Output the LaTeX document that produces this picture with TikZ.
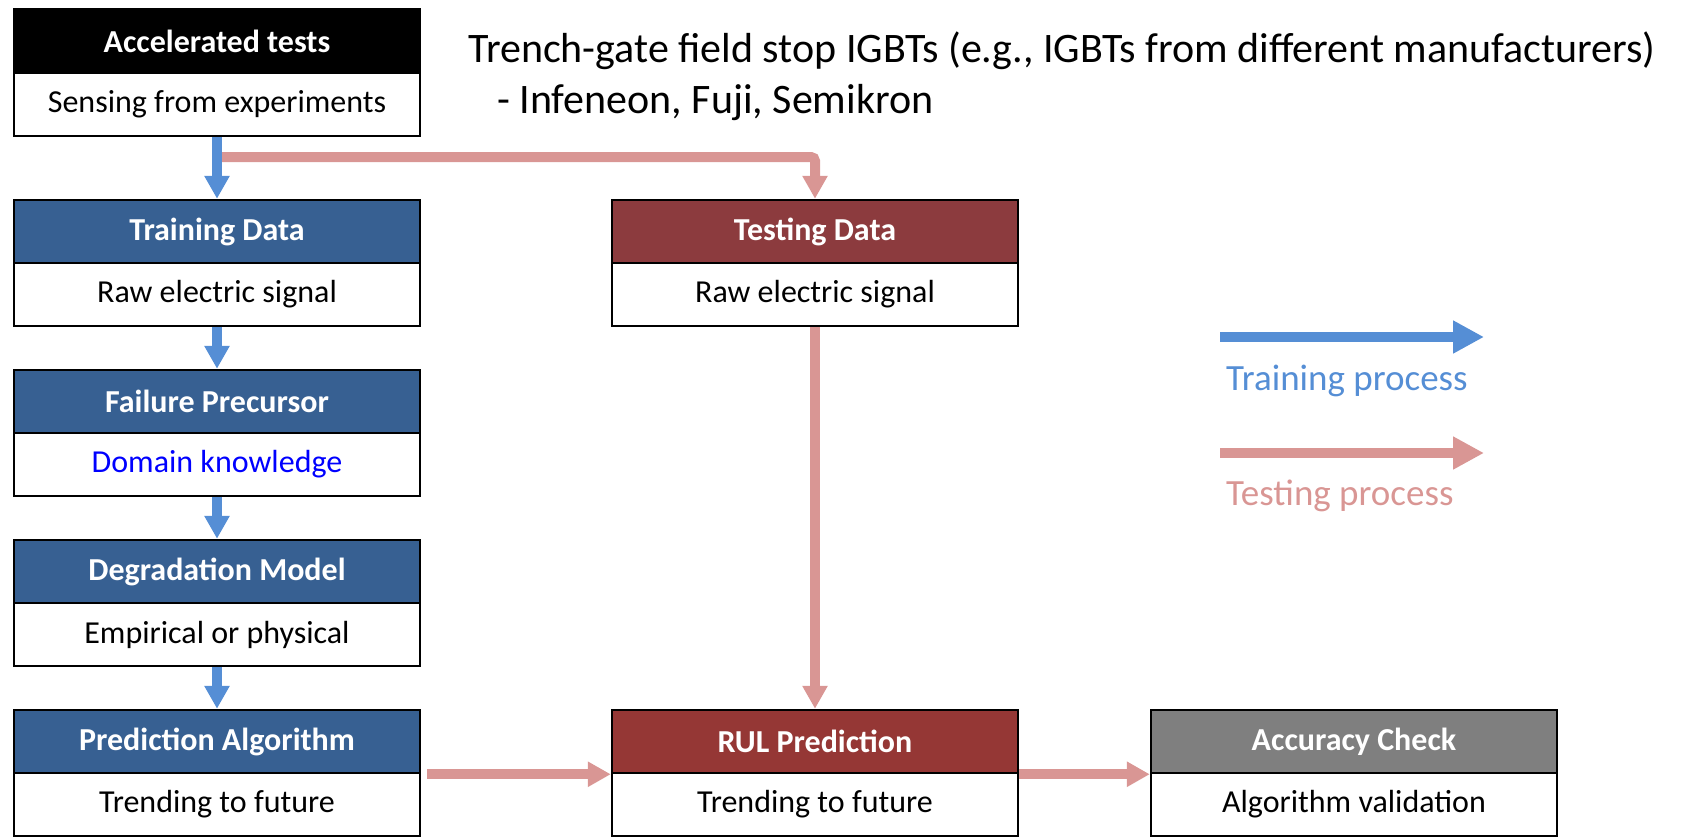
\documentclass[tikz,border=0pt]{standalone}
\usepackage{fontspec}
\setmainfont{Carlito}
\usetikzlibrary{arrows.meta}
\definecolor{hblue}{HTML}{376092}
\definecolor{tred}{HTML}{8C3B3E}
\definecolor{rred}{HTML}{953735}
\definecolor{agray}{HTML}{7F7F7F}
\definecolor{ablue}{HTML}{558ED5}
\definecolor{apink}{HTML}{D99694}
\begin{document}
\begin{tikzpicture}[x=1pt,y=-1pt,
 hdr/.style={draw=black,line width=2.5pt,text=white,font=\fontsize{32}{38}\selectfont\bfseries,inner sep=0pt,minimum width=406pt,minimum height=63pt},
 bdy/.style={draw=black,line width=2.5pt,fill=white,font=\fontsize{32}{38}\selectfont,inner sep=0pt,minimum width=406pt,minimum height=63pt},
 barrow/.style={draw=ablue,line width=10pt,-{Triangle[width=24pt,length=23pt]}},
 parrow/.style={draw=apink,line width=10pt,-{Triangle[width=24pt,length=23pt]}},
 lgarrowb/.style={draw=ablue,line width=10pt,-{Triangle[width=31pt,length=31pt]}},
 lgarrowp/.style={draw=apink,line width=10pt,-{Triangle[width=31pt,length=31pt]}},
 lgtext/.style={anchor=base west,font=\fontsize{37}{44}\selectfont,inner sep=0pt},
 ttl/.style={anchor=base west,font=\fontsize{42}{50}\selectfont,inner sep=0pt}
]
\useasboundingbox (0,0) rectangle (1686,838);

% left column
\node[hdr,fill=black] (acc_h) at (217,41) {Accelerated tests};
\node[bdy] (acc_b) at (217,104.5) {Sensing from experiments};
\node[hdr,fill=hblue] (trn_h) at (217,231.5) {Training Data};
\node[bdy] (trn_b) at (217,294.5) {Raw electric signal};
\node[hdr,fill=hblue] (fp_h) at (217,401.5) {Failure Precursor};
\node[bdy,text=blue] (fp_b) at (217,464.5) {Domain knowledge};
\node[hdr,fill=hblue] (dm_h) at (217,571.5) {Degradation Model};
\node[bdy] (dm_b) at (217,634.5) {Empirical or physical};
\node[hdr,fill=hblue] (pa_h) at (217,741.5) {Prediction Algorithm};
\node[bdy] (pa_b) at (217,804.5) {Trending to future};

% middle column
\node[hdr,fill=tred] (ts_h) at (815,231.5) {Testing Data};
\node[bdy] (ts_b) at (815,294.5) {Raw electric signal};
\node[hdr,fill=rred] (rul_h) at (815,741.5) {RUL Prediction};
\node[bdy] (rul_b) at (815,804.5) {Trending to future};

% right
\node[hdr,fill=agray] (ac_h) at (1354,741.5) {Accuracy Check};
\node[bdy] (ac_b) at (1354,804.5) {Algorithm validation};

% title
\node[ttl] (t1) at (468,62) {Trench-gate field stop IGBTs (e.g., IGBTs from different manufacturers)};
\node[ttl] (t2) at (497,113) {- Infeneon, Fuji, Semikron};

% connectors
\coordinate (split) at (220,157);
\draw[parrow,rounded corners=4pt] (split) -| (ts_h.north);
\draw[barrow] (acc_b.south) -- (trn_h.north);
\draw[barrow] (trn_b.south) -- (fp_h.north);
\draw[barrow] (fp_b.south) -- (dm_h.north);
\draw[barrow] (dm_b.south) -- (pa_h.north);
\draw[parrow] (ts_b.south) -- (rul_h.north);
\draw[parrow] ([xshift=6pt]pa_h.east |- rul_h.south) -- (rul_h.south west);
\draw[parrow] (rul_h.south east) -- (ac_h.south west);

% legend
\coordinate (lb1) at (1220,337);
\coordinate (lb2) at (1484,337);
\draw[lgarrowb] (lb1) -- (lb2);
\node[lgtext,text=ablue] (lbt) at (1226,390) {Training process};
\coordinate (lp1) at (1220,453);
\coordinate (lp2) at (1484,453);
\draw[lgarrowp] (lp1) -- (lp2);
\node[lgtext,text=apink] (lpt) at (1226,505) {Testing process};
\end{tikzpicture}
\end{document}
